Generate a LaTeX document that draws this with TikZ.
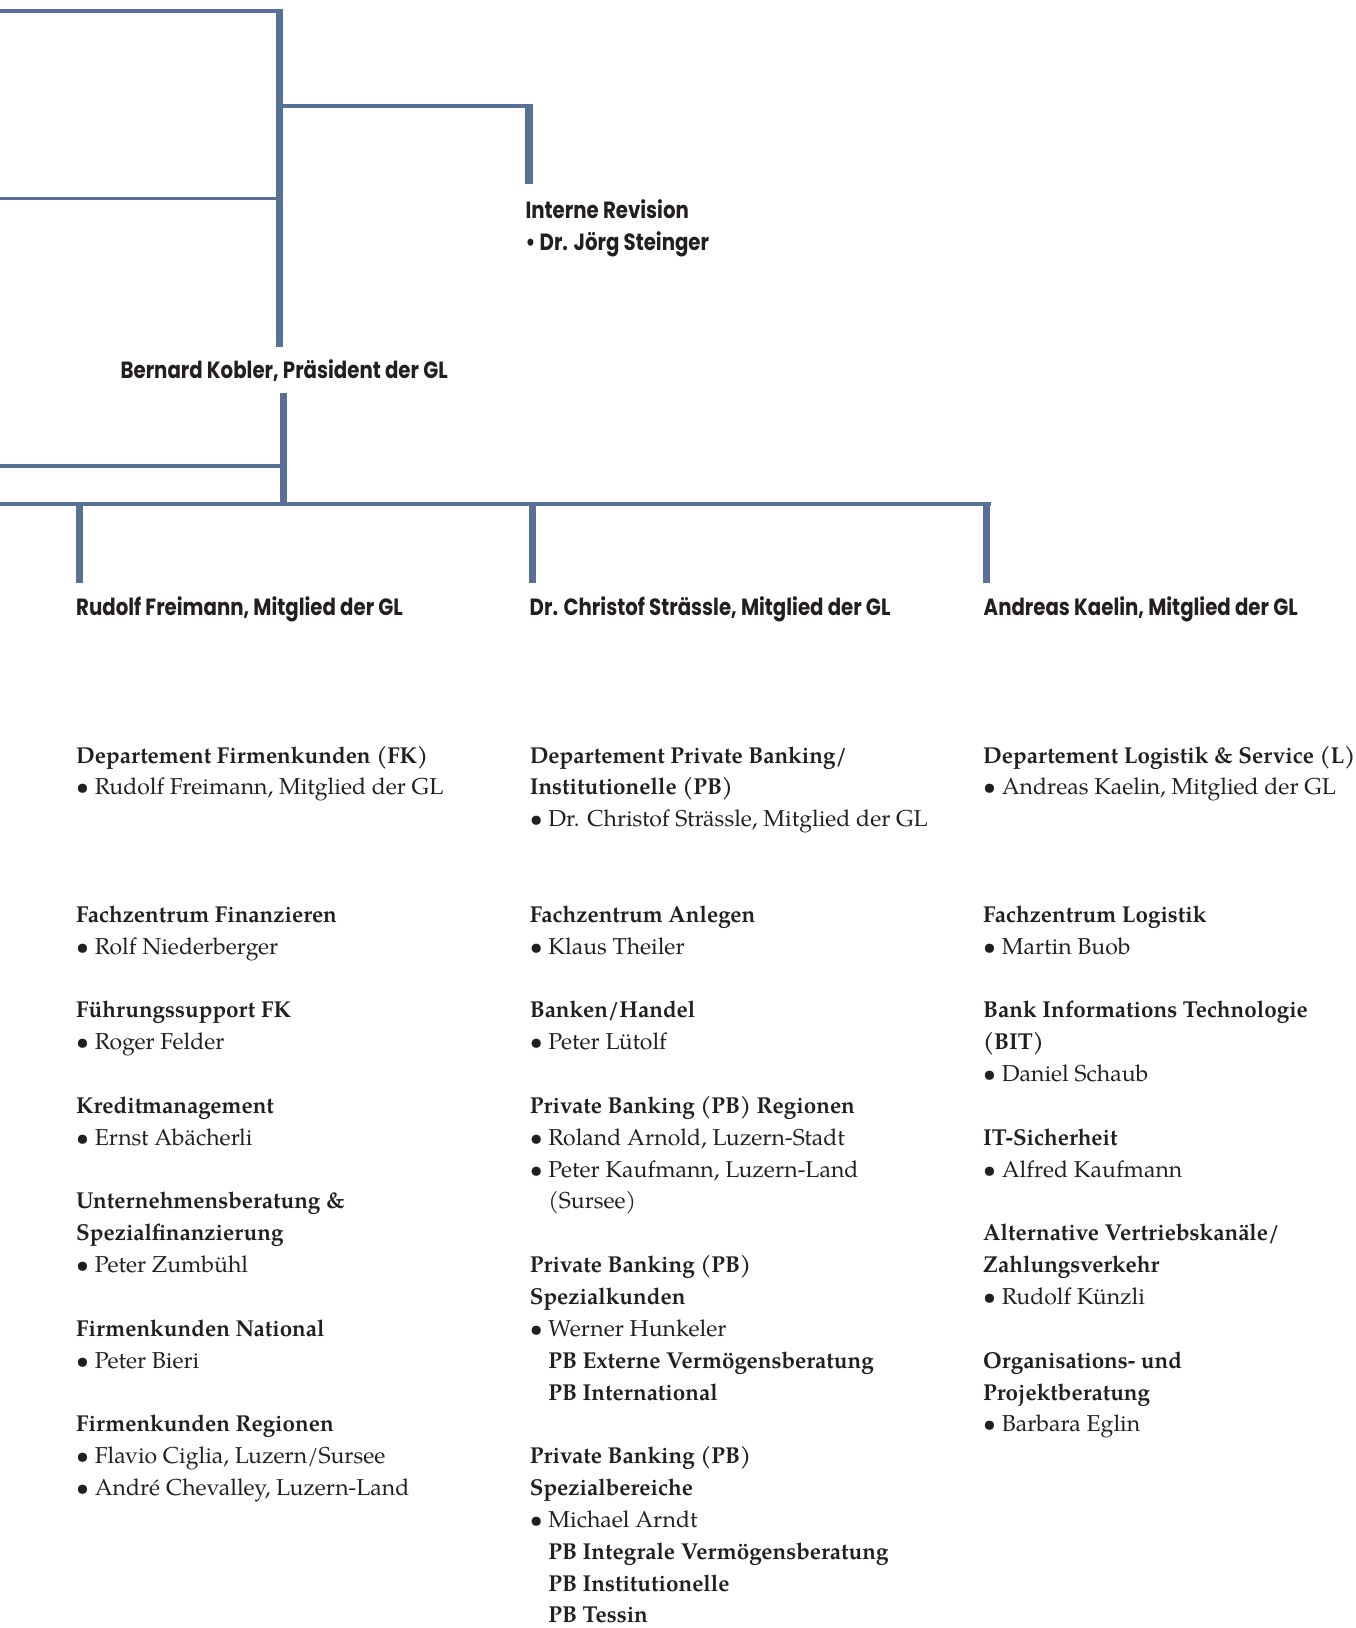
\documentclass[tikz,border=0pt]{standalone}
\usepackage{fontspec}
\setmainfont{texgyrepagella}[Extension=.otf,UprightFont=*-regular,BoldFont=*-bold,ItalicFont=*-italic,BoldItalicFont=*-bolditalic,BoldFeatures={FakeStretch=0.975}]
\newfontfamily\hdfont{Poppins}[FakeStretch=0.84]
\definecolor{orgblue}{RGB}{88,111,150}
\definecolor{ink}{RGB}{35,31,32}
\newcommand\blk[1]{\begin{tabular}[t]{@{}l@{}}#1\end{tabular}}
\newcommand\bul{\textbullet\ }
\newcommand\ind{\hphantom{\textbullet\ }}
\tikzset{
  thinline/.style={draw=orgblue, line width=3.5pt},
  thickline/.style={draw=orgblue, line width=7.5pt},
  hdtext/.style={anchor=base west, inner sep=0pt, text=ink, font=\hdfont\bfseries\fontsize{23.5}{32.2}\selectfont},
  block/.style={anchor=base west, inner sep=0pt, text=ink, font=\fontsize{23}{31.85}\selectfont},
}
\begin{document}
\begin{tikzpicture}[x=1pt,y=-1pt]
\useasboundingbox (0,0) rectangle (1356,1628);
% ---- top part ----
\coordinate (vtop) at (279.7,9);
\coordinate (vbot) at (279.7,347);
\coordinate (tl) at (0,11);
\coordinate (ml) at (0,198.3);
\coordinate (irh) at (279.7,106);
\coordinate (irc) at (533,106);
\coordinate (irtop) at (529.2,104.3);
\coordinate (irbot) at (529.2,184.3);
\draw[thinline] (tl) -- (tl -| vtop);
\draw[thinline] (ml) -- (ml -| vtop);
\draw[thinline] (irh) -- (irc);
\draw[thickline] (vtop) -- (vbot);
\draw[thickline] (irtop) -- (irbot);
\node[hdtext] (ir) at (525.4,218.3) {\blk{Interne Revision\\ \bul Dr. Jörg Steinger}};
\node[hdtext] (pres) at (120.4,378) {Bernard Kobler, Präsident der GL};
% ---- lower tree ----
\coordinate (ltop) at (283.3,392.5);
\coordinate (lbot) at (283.3,505.5);
\coordinate (hl1) at (0,466);
\coordinate (hl2) at (0,504);
\coordinate (hr2) at (990.7,504);
\coordinate (d1t) at (79.5,502.3);
\coordinate (d1b) at (79.5,583);
\coordinate (d2t) at (532.7,502.3);
\coordinate (d2b) at (532.7,583);
\coordinate (d3t) at (986.7,502.3);
\coordinate (d3b) at (986.7,583);
\draw[thinline] (hl1) -- (hl1 -| ltop);
\draw[thinline] (hl2) -- (hr2);
\draw[thickline] (ltop) -- (lbot);
\draw[thickline] (d1t) -- (d1b);
\draw[thickline] (d2t) -- (d2b);
\draw[thickline] (d3t) -- (d3b);
\node[hdtext] (gl1) at (76,615) {Rudolf Freimann, Mitglied der GL};
\node[hdtext] (gl2) at (529.5,615) {Dr. Christof Strässle, Mitglied der GL};
\node[hdtext] (gl3) at (983.5,615) {Andreas Kaelin, Mitglied der GL};
% ---- left column ----
\node[block] (fk) at (76,{763+31.85*0}) {\blk{\textbf{Departement Firmenkunden (FK)}\\ \bul Rudolf Freimann, Mitglied der GL}};
\node[block] (fzf) at (76,{763+31.85*5}) {\blk{\textbf{Fachzentrum Finanzieren}\\ \bul Rolf Niederberger}};
\node[block] (fsfk) at (76,{763+31.85*8}) {\blk{\textbf{Führungssupport FK}\\ \bul Roger Felder}};
\node[block] (krm) at (76,{763+31.85*11}) {\blk{\textbf{Kreditmanagement}\\ \bul Ernst Abächerli}};
\node[block] (ubs) at (76,{763+31.85*14}) {\blk{\textbf{Unternehmensberatung \&}\\ \textbf{Spezialfinanzierung}\\ \bul Peter Zumbühl}};
\node[block] (fkn) at (76,{763+31.85*18}) {\blk{\textbf{Firmenkunden National}\\ \bul Peter Bieri}};
\node[block] (fkr) at (76,{763+31.85*21}) {\blk{\textbf{Firmenkunden Regionen}\\ \bul Flavio Ciglia, Luzern/Sursee\\ \bul André Chevalley, Luzern-Land}};
% ---- middle column ----
\node[block] (pb) at (529.6,{763+31.85*0}) {\blk{\textbf{Departement Private Banking/}\\ \textbf{Institutionelle (PB)}\\ \bul Dr. Christof Strässle, Mitglied der GL}};
\node[block] (fza) at (529.6,{763+31.85*5}) {\blk{\textbf{Fachzentrum Anlegen}\\ \bul Klaus Theiler}};
\node[block] (bh) at (529.6,{763+31.85*8}) {\blk{\textbf{Banken/Handel}\\ \bul Peter Lütolf}};
\node[block] (pbr) at (529.6,{763+31.85*11}) {\blk{\textbf{Private Banking (PB) Regionen}\\ \bul Roland Arnold, Luzern-Stadt\\ \bul Peter Kaufmann, Luzern-Land\\ \ind(Sursee)}};
\node[block] (pbsk) at (529.6,{763+31.85*16}) {\blk{\textbf{Private Banking (PB)}\\ \textbf{Spezialkunden}\\ \bul Werner Hunkeler\\ \ind\textbf{PB Externe Vermögensberatung}\\ \ind\textbf{PB International}}};
\node[block] (pbsb) at (529.6,{763+31.85*22}) {\blk{\textbf{Private Banking (PB)}\\ \textbf{Spezialbereiche}\\ \bul Michael Arndt\\ \ind\textbf{PB Integrale Vermögensberatung}\\ \ind\textbf{PB Institutionelle}\\ \ind\textbf{PB Tessin}}};
% ---- right column ----
\node[block] (ls) at (983,{763+31.85*0}) {\blk{\textbf{Departement Logistik \& Service (L)}\\ \bul Andreas Kaelin, Mitglied der GL}};
\node[block] (fzl) at (983,{763+31.85*5}) {\blk{\textbf{Fachzentrum Logistik}\\ \bul Martin Buob}};
\node[block] (bit) at (983,{763+31.85*8}) {\blk{\textbf{Bank Informations Technologie}\\ \textbf{(BIT)}\\ \bul Daniel Schaub}};
\node[block] (its) at (983,{763+31.85*12}) {\blk{\textbf{IT-Sicherheit}\\ \bul Alfred Kaufmann}};
\node[block] (avk) at (983,{763+31.85*15}) {\blk{\textbf{Alternative Vertriebskanäle/}\\ \textbf{Zahlungsverkehr}\\ \bul Rudolf Künzli}};
\node[block] (opb) at (983,{763+31.85*19}) {\blk{\textbf{Organisations- und}\\ \textbf{Projektberatung}\\ \bul Barbara Eglin}};
\end{tikzpicture}
\end{document}
